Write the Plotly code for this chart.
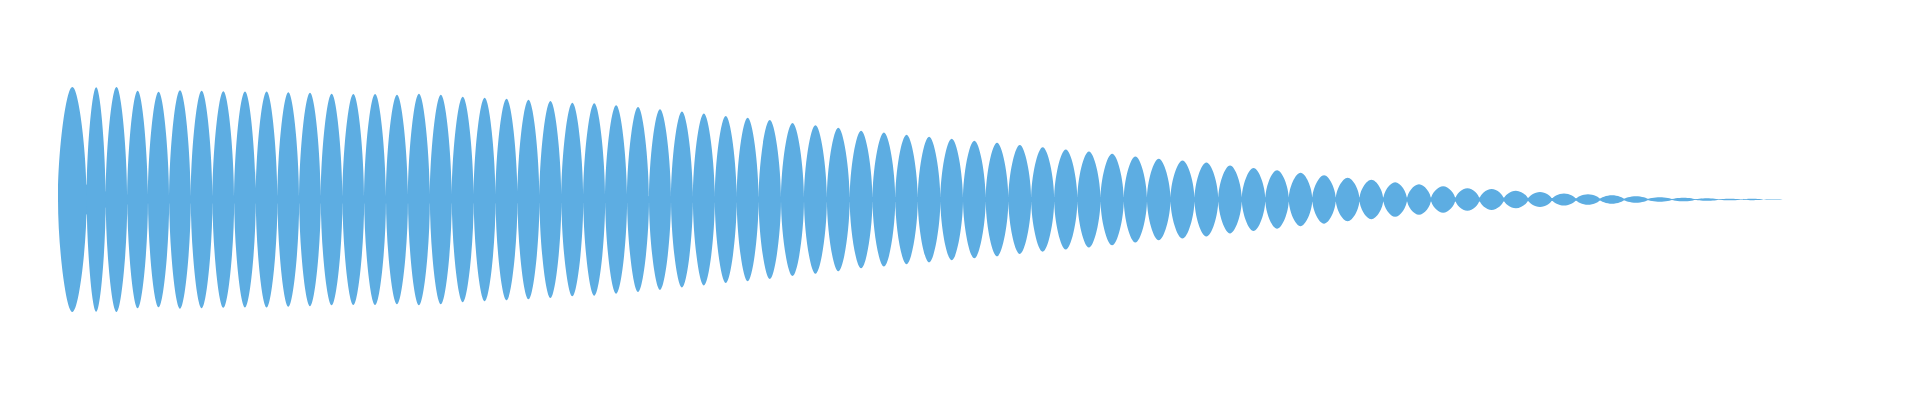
import plotly.graph_objects as go

# boundaries (s) between the beat lobes
null_t = [0.0, 0.0287, 0.0477, 0.0693, 0.090, 0.1112, 0.1328, 0.1545, 0.1762, 0.1978,
          0.2195, 0.2412, 0.2628, 0.2845, 0.3062, 0.328, 0.350, 0.3719, 0.3938, 0.4157,
          0.4376, 0.4595, 0.4815, 0.5034, 0.5253, 0.5472, 0.5691, 0.591, 0.613, 0.6349,
          0.6568, 0.6787, 0.7006, 0.723, 0.746, 0.7689, 0.7917, 0.8145, 0.8373, 0.8598,
          0.8824, 0.905, 0.9277, 0.9504, 0.9732, 0.9962, 1.0194, 1.0425, 1.0658, 1.089,
          1.1125, 1.1365, 1.1603, 1.1838, 1.2073, 1.2308, 1.2543, 1.2778, 1.3015, 1.3253,
          1.349, 1.373, 1.3973, 1.4215, 1.4458, 1.47, 1.494, 1.518, 1.542, 1.566,
          1.59, 1.6138, 1.6373, 1.6605, 1.683, 1.705, 1.725]
# peak amplitude of each lobe (normalised to the first one)
lobe_amp = [1.000, 0.998, 1.000, 0.967, 0.958, 0.971, 0.966, 0.963, 0.960, 0.960,
            0.954, 0.948, 0.940, 0.938, 0.938, 0.931, 0.940, 0.931, 0.913, 0.905,
            0.896, 0.887, 0.876, 0.860, 0.855, 0.837, 0.822, 0.803, 0.782, 0.764,
            0.742, 0.726, 0.707, 0.680, 0.660, 0.638, 0.612, 0.596, 0.575, 0.558,
            0.540, 0.523, 0.505, 0.484, 0.464, 0.444, 0.427, 0.407, 0.382, 0.363,
            0.347, 0.329, 0.302, 0.280, 0.260, 0.237, 0.215, 0.193, 0.175, 0.154,
            0.136, 0.118, 0.100, 0.093, 0.078, 0.066, 0.054, 0.047, 0.038, 0.029,
            0.020, 0.016, 0.012, 0.007, 0.006, 0.003]

# residual level left at the beat nulls
floor_t = [0.0, 0.0287, 0.0477, 0.069, 0.09, 0.362, 0.842, 1.302, 1.442, 1.542, 1.642, 1.715]
floor_amp = [0.0, 0.133, 0.071, 0.044, 0.036, 0.036, 0.022, 0.022, 0.018, 0.009, 0.003, 0.0]

color = "#5DADE2"

# each lobe as a closed spline: left null, top, right null, bottom
lx, ly = [], []
for i, a in enumerate(lobe_amp):
    t0, t1 = null_t[i], null_t[i + 1]
    tm = (t0 + t1) / 2
    lx += [t0, tm, t1, tm, t0, None]
    ly += [0, a, 0, -a, 0, None]

fig = go.Figure()
fig.add_trace(go.Scatter(x=floor_t, y=floor_amp, mode="lines",
                         line=dict(width=0, color=color), hoverinfo="skip"))
fig.add_trace(go.Scatter(x=floor_t, y=[-v for v in floor_amp], mode="lines",
                         line=dict(width=0, color=color),
                         fill="tonexty", fillcolor=color, hoverinfo="skip"))
fig.add_trace(go.Scatter(x=lx, y=ly, mode="lines",
                         line=dict(shape="spline", smoothing=1.3, width=0, color=color),
                         fill="toself", fillcolor=color, hoverinfo="skip"))

fig.update_layout(width=1920, height=400, margin=dict(l=0, r=0, t=0, b=0),
                  paper_bgcolor="white", plot_bgcolor="white", showlegend=False)
fig.update_xaxes(visible=False, range=[-0.050, 1.870])
fig.update_yaxes(visible=False, range=[-1.8533, 1.7022])

fig.write_html("out.html")
